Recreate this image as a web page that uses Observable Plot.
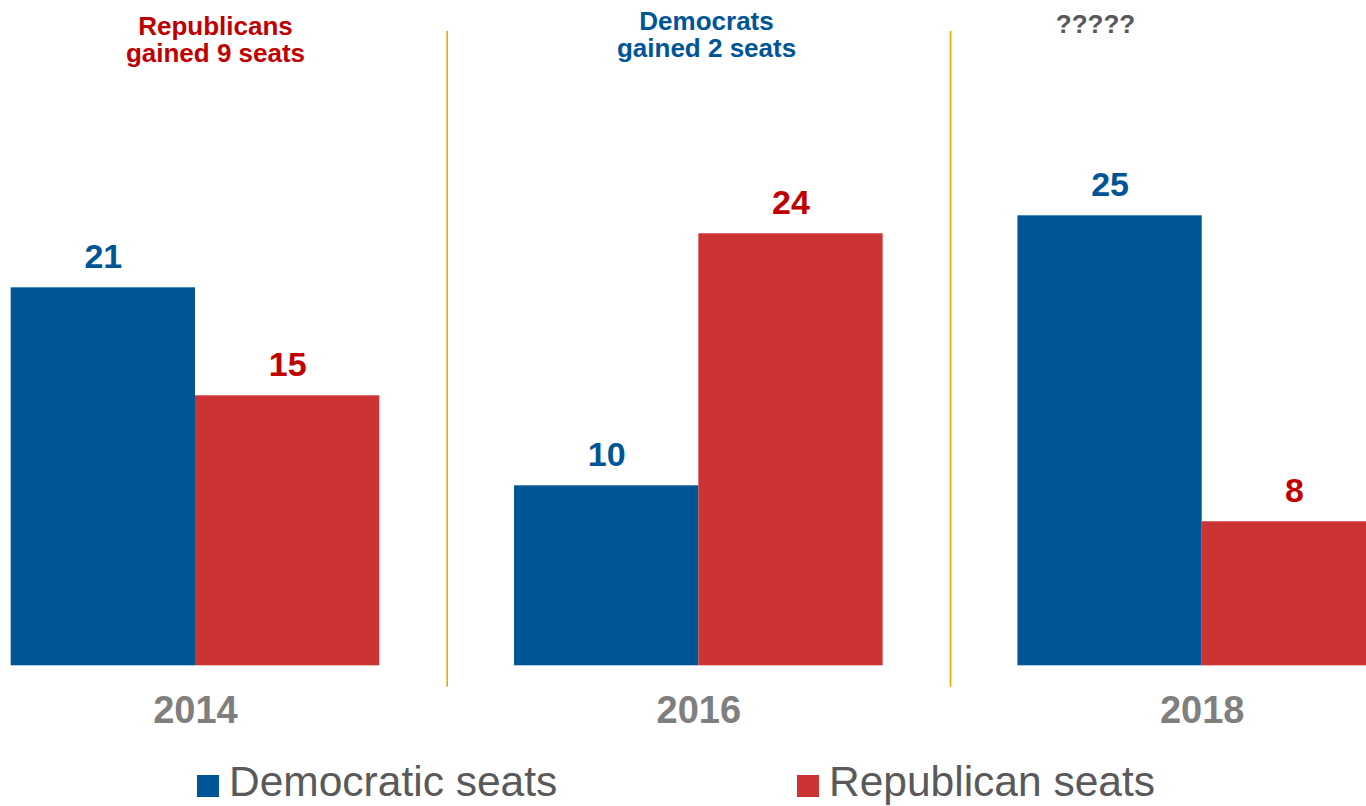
<!DOCTYPE html>
<html>
<head>
<meta charset="utf-8">
<script src="https://cdn.jsdelivr.net/npm/d3@7"></script>
<script src="https://cdn.jsdelivr.net/npm/@observablehq/plot@0.6"></script>
<style>
  html, body { margin: 0; padding: 0; background: #fff; overflow: hidden; }
  body { font-family: "Liberation Sans", Arial, sans-serif; width: 1366px; height: 806px; }
  #chart svg { display: block; }
  #legend { display: flex; height: 46px; margin-left: 197px; }
  #legend .item { display: flex; align-items: flex-start; flex: none; }
  #legend .sw { width: 22px; height: 22px; margin-top: 15.5px; margin-right: 10px; flex: none; }
  #legend .lbl { font-size: 42.5px; line-height: 46px; color: #595959; white-space: nowrap; }
</style>
</head>
<body>
<div id="chart"></div>
<div id="legend"></div>
<script>
// ---- data ----
const years = [2014, 2016, 2018];
const parties = ["Democratic seats", "Republican seats"];
const demSeats = [21, 10, 25];
const repSeats = [15, 24, 8];
const barColors = ["#005596", "#CC3333"];
const labelColors = ["#005596", "#C00000"];
const annotationYears = [2014, 2016, 2018];
const annotationTexts = ["Republicans\ngained 9 seats", "Democrats\ngained 2 seats", "?????"];
const annotationColors = ["#C00000", "#005596", "#595959"];
const separatorYears = [2014, 2016];
const separatorColor = "#E8A800";

const rows = years.flatMap((year, i) => [
  {year, party: parties[0], seats: demSeats[i]},
  {year, party: parties[1], seats: repSeats[i]}
]);

// ---- layout ----
const W = 1366, H = 759;
const baseline = 665.3, pxPerUnit = 18;
const fxRange = [-56.7, 1453.4];
const groupStep = (fxRange[1] - fxRange[0]) / years.length;
const outerPad = 0.3656;
const barStep = groupStep / (parties.length + 2 * outerPad);
const sepDx = barStep / 2 + outerPad * barStep;

const font = "'Liberation Sans', Arial, Helvetica, sans-serif";

const annoDx = [20, 7.7, -106.7];
const annoDy = [14.8, 9.8, 13.2];

const annotationMarks = annotationYears.map((y, i) =>
  Plot.text([y], {
    fx: d => d,
    text: () => annotationTexts[i],
    frameAnchor: "top",
    lineAnchor: "top",
    lineHeight: 1.05,
    dx: annoDx[i],
    dy: annoDy[i],
    fill: annotationColors[i],
    fontSize: 26,
    fontWeight: "bold",
    textAnchor: "middle"
  })
);

const chart = Plot.plot({
  width: W,
  height: H,
  marginTop: 0,
  marginBottom: H - baseline,
  marginLeft: 0,
  marginRight: 0,
  style: {fontFamily: font, background: "white", overflow: "hidden"},
  fx: {domain: years, range: fxRange, padding: 0, round: false, label: null},
  x: {domain: parties, paddingInner: 0, paddingOuter: outerPad, round: false, axis: null},
  y: {domain: [0, baseline / pxPerUnit], axis: null},
  color: {domain: parties, range: barColors},
  marks: [
    Plot.ruleX(separatorYears, {
      fx: d => d,
      x: () => parties[1],
      dx: sepDx,
      stroke: separatorColor,
      strokeWidth: 1.6,
      insetTop: 31,
      insetBottom: -21.4
    }),
    Plot.barY(rows, {fx: "year", x: "party", y: "seats", fill: "party"}),
    ...parties.map((p, pi) =>
      Plot.text(rows.filter(d => d.party === p), {
        fx: "year", x: "party", y: "seats", text: d => String(d.seats),
        lineAnchor: "bottom", dy: -20,
        fill: labelColors[pi], fontSize: 34, fontWeight: "bold"
      })
    ),
    ...annotationMarks,
    Plot.axisFx({
      anchor: "bottom",
      tickSize: 0,
      tickPadding: 30,
      tickFormat: d => String(d),
      fontSize: 38,
      fontWeight: "bold",
      fill: "#7F7F7F",
      color: "#7F7F7F",
      label: null
    })
  ]
});
document.getElementById("chart").appendChild(chart);

// ---- legend (HTML, below the SVG) ----
const legend = document.getElementById("legend");
const itemWidths = [600, null];
parties.forEach((p, i) => {
  const item = document.createElement("div");
  item.className = "item";
  if (itemWidths[i]) item.style.width = itemWidths[i] + "px";
  const sw = document.createElement("span");
  sw.className = "sw";
  sw.style.background = barColors[i];
  const lbl = document.createElement("span");
  lbl.className = "lbl";
  lbl.textContent = p;
  item.appendChild(sw);
  item.appendChild(lbl);
  legend.appendChild(item);
});
</script>
</body>
</html>
